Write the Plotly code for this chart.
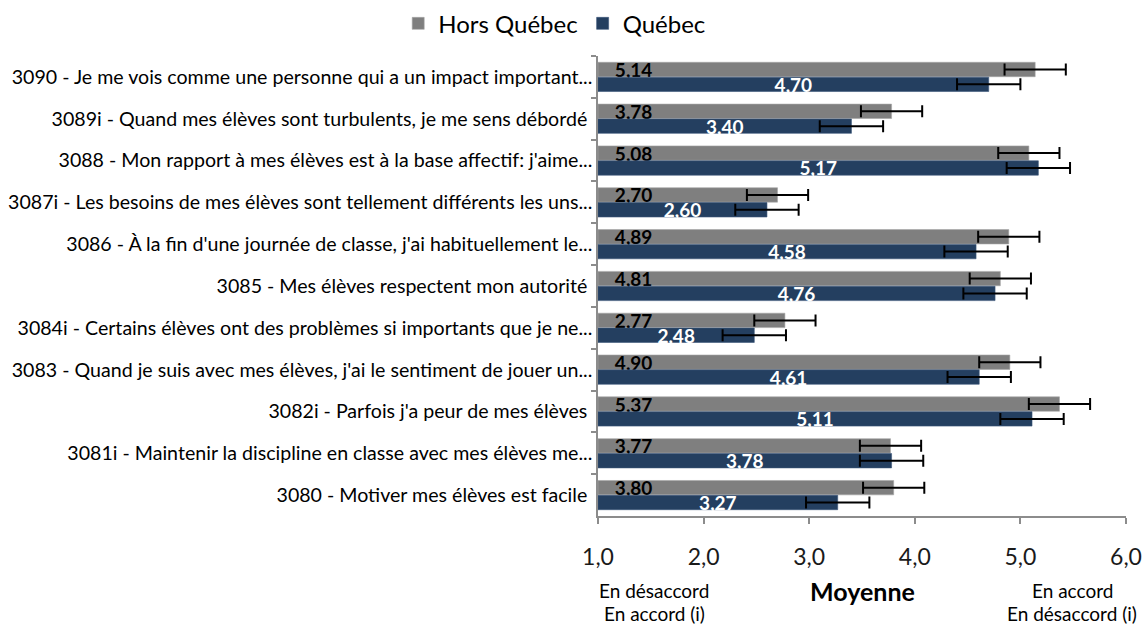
import plotly.graph_objects as go

categories = [
    "3090 - Je me vois comme une personne qui a un impact important...",
    "3089i - Quand mes élèves sont turbulents, je me sens débordé ",
    "3088 - Mon rapport à mes élèves est à la base affectif: j'aime...",
    "3087i - Les besoins de mes élèves sont tellement différents les uns...",
    "3086 - À la fin d'une journée de classe, j'ai habituellement le...",
    "3085 - Mes élèves respectent mon autorité ",
    "3084i - Certains élèves ont des problèmes si importants que je ne...",
    "3083 - Quand je suis avec mes élèves, j'ai le sentiment de jouer un...",
    "3082i - Parfois j'a peur de mes élèves ",
    "3081i - Maintenir la discipline en classe avec mes élèves me...",
    "3080 - Motiver mes élèves est facile ",
]
hors_quebec = [5.14, 3.78, 5.08, 2.70, 4.89, 4.81, 2.77, 4.90, 5.37, 3.77, 3.80]
quebec = [4.70, 3.40, 5.17, 2.60, 4.58, 4.76, 2.48, 4.61, 5.11, 3.78, 3.27]
hors_quebec_err = [0.29] * 11
quebec_err = [0.30] * 11
x_ticks = [1, 2, 3, 4, 5, 6]
base_value = 1.0

FONT = "Lato"
GRAY = "#7F7F7F"
BLUE = "#243F60"


def fmt(v):
    return f"{v:.2f}".replace(".", ",")


fig = go.Figure()
fig.add_trace(go.Bar(
    name="Hors Québec",
    y=categories,
    x=[v - base_value for v in hors_quebec],
    base=base_value,
    orientation="h",
    marker=dict(color=GRAY, line=dict(color="#A6A6A6", width=0.6)),
    text=["\u00a0\u00a0\u00a0" + fmt(v) for v in hors_quebec],
    textposition="inside",
    insidetextanchor="start",
    constraintext="none",
    textfont=dict(family=FONT, size=19, color="black", weight="bold"),
    error_x=dict(type="data", array=hors_quebec_err, color="black", thickness=2, width=6),
    hoverinfo="skip",
))
fig.add_trace(go.Bar(
    name="Québec",
    y=categories,
    x=[v - base_value for v in quebec],
    base=base_value,
    orientation="h",
    marker=dict(color=BLUE, line=dict(color="#3A5578", width=0.6)),
    text=[fmt(v) for v in quebec],
    textposition="inside",
    insidetextanchor="middle",
    constraintext="none",
    textfont=dict(family=FONT, size=19, color="white", weight="bold"),
    error_x=dict(type="data", array=quebec_err, color="black", thickness=2, width=6),
    hoverinfo="skip",
))

fig.update_layout(
    width=1145, height=627,
    margin=dict(l=598, r=19, t=56, b=111, autoexpand=False),
    paper_bgcolor="white", plot_bgcolor="white",
    barmode="group", bargap=0.29, bargroupgap=0.03,
    separators=",.",
    font=dict(family=FONT, color="#1a1a1a"),
    legend=dict(orientation="h", x=-0.082, xanchor="center", y=0.998, yanchor="top",
                yref="container", font=dict(family=FONT, size=24, color="black"),
                itemwidth=30, tracegroupgap=0),
    showlegend=True,
)

fig.update_xaxes(
    range=[1, 6], tickvals=x_ticks, tickformat=".1f",
    showgrid=False, zeroline=False,
    showline=True, linecolor="#8C8C8C", linewidth=1.5,
    ticks="outside", ticklen=6, tickcolor="#8C8C8C", tickwidth=1.5,
    ticklabelstandoff=14,
    tickfont=dict(family=FONT, size=23, color="#1a1a1a"),
)
fig.update_yaxes(
    autorange="reversed", type="category",
    showgrid=False, showline=True, linecolor="#8C8C8C", linewidth=1.5,
    ticks="outside", tickson="boundaries", ticklen=5, tickcolor="#8C8C8C", tickwidth=1.5,
    tickfont=dict(family=FONT, size=19.6, color="black"),
)

fig.add_annotation(text="<b>Moyenne</b>", xref="paper", yref="paper",
                   x=0.5, y=-0.163, xanchor="center", yanchor="middle", showarrow=False,
                   font=dict(family=FONT, size=25, color="black"))
side_notes = [
    ("En désaccord", 0.107, -0.162),
    ("En accord (i)", 0.107, -0.212),
    ("En accord", 0.898, -0.162),
    ("En désaccord (i)", 0.898, -0.212),
]
for txt, xp, yp in side_notes:
    fig.add_annotation(text=txt, xref="paper", yref="paper",
                       x=xp, y=yp, xanchor="center", yanchor="middle", showarrow=False,
                       font=dict(family=FONT, size=19, color="black"))

fig.write_html("out.html", config={"displayModeBar": False},
               post_script="document.body.style.margin='0';document.body.style.padding='0';")
